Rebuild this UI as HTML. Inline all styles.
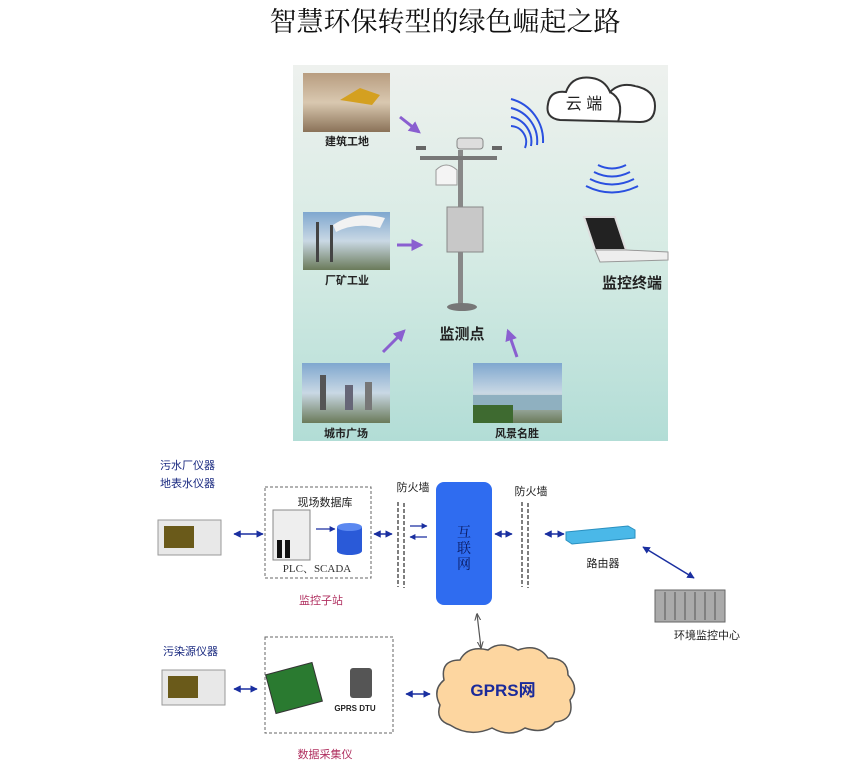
<!DOCTYPE html>
<html><head><meta charset="utf-8"><style>
html,body{margin:0;padding:0;background:#fff;}
body{width:865px;height:765px;overflow:hidden;}
svg{display:block;}
</style></head><body>
<svg width="865" height="765" viewBox="0 0 865 765" xmlns="http://www.w3.org/2000/svg" font-family="'Liberation Sans','Noto Sans CJK SC',sans-serif">
<defs>
<linearGradient id="bg" x1="0" y1="0" x2="0" y2="1"><stop offset="0" stop-color="#eef1ee"/><stop offset="0.5" stop-color="#d6ebe4"/><stop offset="1" stop-color="#b2ddd6"/></linearGradient>
<linearGradient id="sky" x1="0" y1="0" x2="0" y2="1"><stop offset="0" stop-color="#7fa7cf"/><stop offset="0.5" stop-color="#c9d8e4"/><stop offset="1" stop-color="#6a7a5a"/></linearGradient>
<linearGradient id="cons" x1="0" y1="0" x2="0" y2="1"><stop offset="0" stop-color="#b89d80"/><stop offset="0.5" stop-color="#d9c8b0"/><stop offset="1" stop-color="#8a7258"/></linearGradient>
<marker id="ap" viewBox="0 0 10 10" refX="8" refY="5" markerWidth="4" markerHeight="4" orient="auto"><path d="M0,0L10,5L0,10z" fill="#8a5fd0"/></marker>
<marker id="ab" viewBox="0 0 10 10" refX="9" refY="5" markerWidth="5" markerHeight="5" orient="auto-start-reverse"><path d="M0,0L10,5L0,10z" fill="#1a2fa0"/></marker>
<marker id="ag" viewBox="0 0 10 10" refX="9" refY="5" markerWidth="6" markerHeight="6" orient="auto-start-reverse"><path d="M0,1L10,5L0,9" fill="none" stroke="#555" stroke-width="1.5"/></marker>
</defs>
<text x="445" y="31" text-anchor="middle" font-family="'Liberation Serif','Noto Serif CJK SC',serif" font-size="27" fill="#111">智慧环保转型的绿色崛起之路</text>

<rect x="293" y="65" width="375" height="376" fill="url(#bg)"/>
<rect x="303" y="73" width="87" height="59" fill="url(#cons)"/>
<path d="M340,100 L360,88 L380,95 L372,105 Z" fill="#d4a020"/>
<rect x="303" y="212" width="87" height="58" fill="url(#sky)"/>
<rect x="316" y="222" width="3" height="40" fill="#444"/><rect x="330" y="225" width="3" height="37" fill="#444"/>
<path d="M333,225 Q355,210 385,218 L380,228 Q355,222 336,232z" fill="#f2f2f2"/>
<rect x="302" y="363" width="88" height="60" fill="url(#sky)"/>
<rect x="320" y="375" width="6" height="35" fill="#555"/><rect x="345" y="385" width="8" height="25" fill="#667"/><rect x="365" y="382" width="7" height="28" fill="#777"/>
<rect x="473" y="363" width="89" height="60" fill="url(#sky)"/>
<rect x="473" y="395" width="89" height="15" fill="#8fb0c0"/><rect x="473" y="405" width="40" height="18" fill="#3e6a30"/>
<g font-size="11" font-weight="bold" fill="#222" text-anchor="middle">
<text x="347" y="145">建筑工地</text><text x="347" y="284">厂矿工业</text><text x="346" y="437">城市广场</text><text x="517" y="437">风景名胜</text>
</g>
<g stroke="#8a5fd0" stroke-width="3" marker-end="url(#ap)">
<line x1="400" y1="117" x2="419" y2="132"/><line x1="397" y1="245" x2="421" y2="245"/><line x1="383" y1="352" x2="404" y2="331"/><line x1="517" y1="357" x2="508" y2="331"/>
</g>
<rect x="458" y="150" width="5" height="157" fill="#888"/>
<rect x="420" y="156" width="77" height="4" fill="#777"/>
<rect x="457" y="138" width="26" height="11" rx="3" fill="#ddd" stroke="#888"/>
<path d="M436,185 L436,170 Q446,160 457,170 L457,185z" fill="#f4f4f4" stroke="#999"/>
<rect x="447" y="207" width="36" height="45" fill="#c8c8c8" stroke="#888"/>
<ellipse cx="462" cy="307" rx="15" ry="4" fill="#777"/>
<rect x="416" y="146" width="10" height="4" fill="#666"/><rect x="492" y="146" width="10" height="4" fill="#666"/>
<text x="462" y="339" text-anchor="middle" font-size="15" font-weight="bold" fill="#222">监测点</text>
<path d="M560,120 Q545,118 548,104 Q550,90 566,92 Q572,75 592,78 Q605,80 610,92 Q620,82 635,86 Q655,90 655,106 Q655,122 640,122 Z" fill="#fff" stroke="#333" stroke-width="2"/>
<path d="M610,92 Q625,100 618,122" fill="none" stroke="#333" stroke-width="2"/>
<text x="584" y="109" text-anchor="middle" font-size="16" fill="#222">云 端</text>
<g fill="none" stroke="#2a50e0" stroke-width="2">
<path d="M511,126 A16,16 0 0 1 525,148"/>
<path d="M511,117 A25,25 0 0 1 531,146"/>
<path d="M511,108 A34,34 0 0 1 537,145"/>
<path d="M511,99 A43,43 0 0 1 543,143"/>
<path d="M598,165 Q612,172 626,165"/><path d="M594,172 Q612,181 630,172"/><path d="M590,179 Q612,190 634,179"/><path d="M586,186 Q612,199 638,186"/>
</g>
<path d="M584,217 L615,217 L626,250 L595,250 Z" fill="#222" stroke="#ddd" stroke-width="2"/>
<path d="M595,250 L626,250 L668,252 L668,260 L600,262 Z" fill="#eee" stroke="#999"/>
<text x="632" y="288" text-anchor="middle" font-size="15" font-weight="bold" fill="#222">监控终端</text>

<g font-size="11" fill="#1a2a80">
<text x="160" y="469">污水厂仪器</text><text x="160" y="487">地表水仪器</text><text x="163" y="655">污染源仪器</text>
</g>
<g>
<rect x="158" y="520" width="63" height="35" fill="#e8e8e8" stroke="#999"/><rect x="164" y="526" width="30" height="22" fill="#6a5a1a"/>
<rect x="162" y="670" width="63" height="35" fill="#e8e8e8" stroke="#999"/><rect x="168" y="676" width="30" height="22" fill="#6a5a1a"/>
</g>
<rect x="265" y="487" width="106" height="91" fill="none" stroke="#666" stroke-dasharray="3,2"/>
<rect x="265" y="637" width="128" height="96" fill="none" stroke="#666" stroke-dasharray="3,2"/>
<text x="325" y="506" text-anchor="middle" font-size="11" fill="#222">现场数据库</text>
<rect x="273" y="510" width="37" height="50" fill="#eee" stroke="#888"/><rect x="277" y="540" width="5" height="18" fill="#111"/><rect x="285" y="540" width="5" height="18" fill="#111"/>
<rect x="337" y="527" width="25" height="24" fill="#2a5ad8"/><ellipse cx="349.5" cy="527" rx="12.5" ry="4" fill="#5b88f0"/><ellipse cx="349.5" cy="551" rx="12.5" ry="4" fill="#2a5ad8"/>
<text x="317" y="572" text-anchor="middle" font-size="11" font-family="'Liberation Serif','Noto Serif CJK SC',serif" fill="#333">PLC、SCADA</text>
<text x="321" y="604" text-anchor="middle" font-size="11" fill="#b03060">监控子站</text>
<text x="325" y="758" text-anchor="middle" font-size="11" fill="#b03060">数据采集仪</text>
<g fill="none" stroke="#555" stroke-width="1.5" stroke-dasharray="4,2">
<line x1="398" y1="502" x2="398" y2="587"/><line x1="404" y1="503" x2="404" y2="588"/>
<line x1="522" y1="502" x2="522" y2="587"/><line x1="528" y1="503" x2="528" y2="588"/>
</g>
<text x="413" y="491" text-anchor="middle" font-size="11" fill="#222">防火墙</text>
<text x="531" y="495" text-anchor="middle" font-size="11" fill="#222">防火墙</text>
<rect x="436" y="482" width="56" height="123" rx="8" fill="#2f6cf0"/>
<g font-size="14" fill="#0a1a60" text-anchor="middle" font-family="'Liberation Serif','Noto Serif CJK SC',serif"><text x="464" y="537">互</text><text x="464" y="553">联</text><text x="464" y="569">网</text></g>
<path d="M566,532 L628,526 L635,530 L635,538 L572,544 L566,540 Z" fill="#4ab8e8" stroke="#2a90c0"/>
<text x="603" y="567" text-anchor="middle" font-size="11" fill="#222">路由器</text>
<rect x="655" y="590" width="70" height="32" fill="#aaa" stroke="#666"/>
<g stroke="#555"><line x1="665" y1="592" x2="665" y2="620"/><line x1="675" y1="592" x2="675" y2="620"/><line x1="685" y1="592" x2="685" y2="620"/><line x1="695" y1="592" x2="695" y2="620"/><line x1="705" y1="592" x2="705" y2="620"/><line x1="715" y1="592" x2="715" y2="620"/></g>
<text x="707" y="639" text-anchor="middle" font-size="11" fill="#222">环境监控中心</text>
<rect x="270" y="668" width="48" height="40" fill="#2a7a30" stroke="#333" transform="rotate(-15 294 688)"/>
<rect x="350" y="668" width="22" height="30" rx="3" fill="#555"/>
<text x="355" y="711" text-anchor="middle" font-size="8" font-weight="bold" fill="#222">GPRS DTU</text>
<path d="M450,725 Q435,720 440,705 Q432,690 444,680 Q440,660 460,660 Q468,645 488,650 Q500,640 518,650 Q538,643 548,658 Q568,658 568,675 Q580,688 570,700 Q575,720 555,722 Q545,735 525,728 Q510,738 492,728 Q470,738 450,725Z" fill="#fdd6a0" stroke="#555" stroke-width="1.5"/>
<text x="503" y="696" text-anchor="middle" font-size="17" font-weight="bold" fill="#1a2a9a">GPRS网</text>
<g stroke="#1a2fa0" stroke-width="1.5" marker-end="url(#ab)" marker-start="url(#ab)">
<line x1="234" y1="534" x2="263" y2="534"/><line x1="374" y1="534" x2="392" y2="534"/>
<line x1="495" y1="534" x2="512" y2="534"/><line x1="545" y1="534" x2="564" y2="534"/>
<line x1="234" y1="689" x2="257" y2="689"/><line x1="406" y1="694" x2="430" y2="694"/>
<line x1="643" y1="547" x2="694" y2="578"/>
</g>
<g stroke="#1a2fa0" stroke-width="1.2" marker-end="url(#ab)">
<line x1="316" y1="529" x2="335" y2="529"/><line x1="410" y1="526" x2="427" y2="526"/><line x1="427" y1="537" x2="410" y2="537"/>
</g>
<line x1="477" y1="614" x2="481" y2="648" stroke="#555" stroke-width="1.2" marker-start="url(#ag)" marker-end="url(#ag)"/>
</svg>
</body></html>
